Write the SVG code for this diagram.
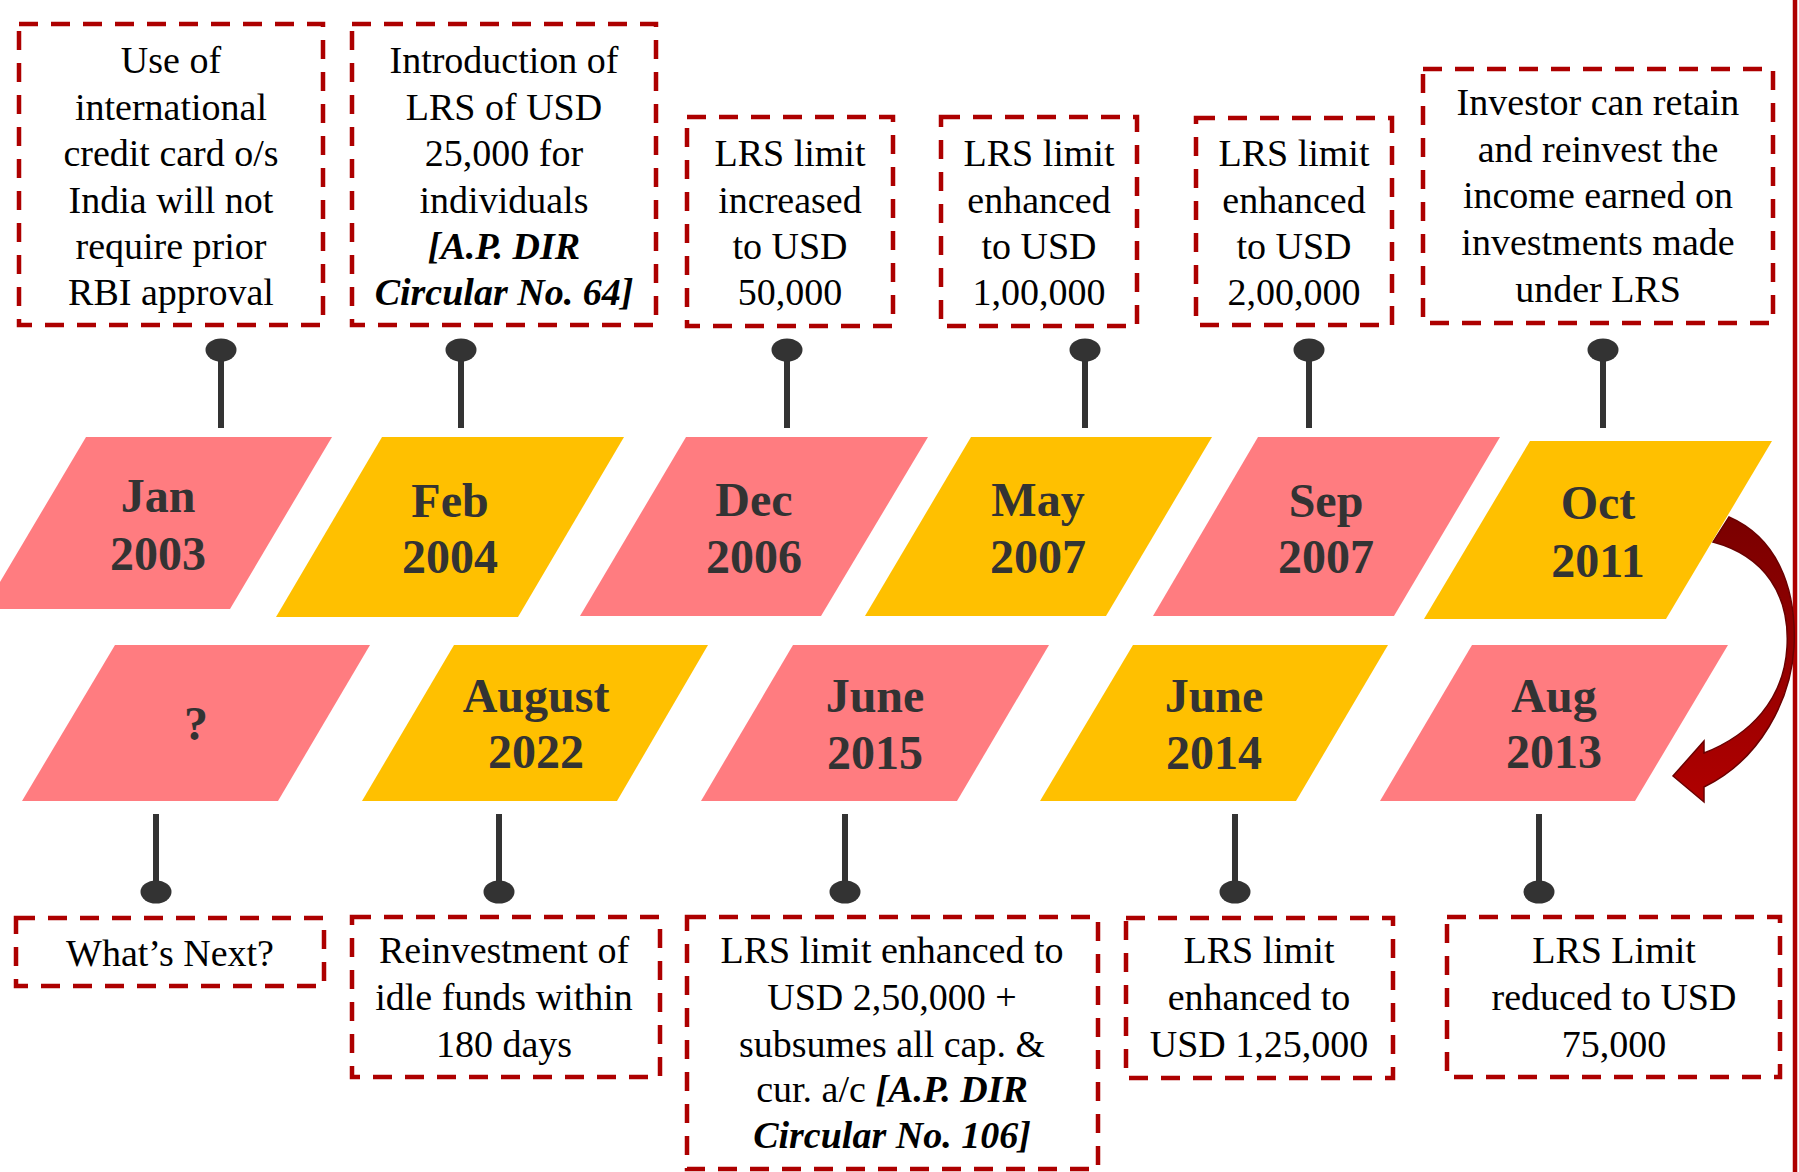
<svg xmlns="http://www.w3.org/2000/svg" width="1799" height="1172" viewBox="0 0 1799 1172">
<style>
.box{fill:#fff;stroke:#AD0000;stroke-width:4.5;stroke-dasharray:19 13}
.bt{font-family:"Liberation Serif","Times New Roman",serif;font-size:38px;fill:#000;text-anchor:middle}
.bi{font-weight:bold;font-style:italic}
.pink{fill:#FF7C80}
.yel{fill:#FFC000}
.dt{font-family:"Liberation Serif","Times New Roman",serif;font-size:48px;font-weight:bold;fill:#333;text-anchor:middle}
.stem{stroke:#333;stroke-width:6}
.dot{fill:#333}
</style>
<defs>
<linearGradient id="ag" x1="0" y1="0" x2="0" y2="1">
<stop offset="0" stop-color="#7A0000"/>
<stop offset="1" stop-color="#B00000"/>
</linearGradient>
</defs>
<rect width="1799" height="1172" fill="#fff"/>
<line x1="1795" y1="0" x2="1795" y2="1172" stroke="#AD0000" stroke-width="4.5"/>

<g id="connectors">
<line class="stem" x1="221" y1="350" x2="221" y2="428"/><ellipse class="dot" cx="221" cy="350" rx="15.5" ry="11.5"/>
<line class="stem" x1="461" y1="350" x2="461" y2="428"/><ellipse class="dot" cx="461" cy="350" rx="15.5" ry="11.5"/>
<line class="stem" x1="787" y1="350" x2="787" y2="428"/><ellipse class="dot" cx="787" cy="350" rx="15.5" ry="11.5"/>
<line class="stem" x1="1085" y1="350" x2="1085" y2="428"/><ellipse class="dot" cx="1085" cy="350" rx="15.5" ry="11.5"/>
<line class="stem" x1="1309" y1="350" x2="1309" y2="428"/><ellipse class="dot" cx="1309" cy="350" rx="15.5" ry="11.5"/>
<line class="stem" x1="1603" y1="350" x2="1603" y2="428"/><ellipse class="dot" cx="1603" cy="350" rx="15.5" ry="11.5"/>
<line class="stem" x1="156" y1="814" x2="156" y2="892"/><ellipse class="dot" cx="156" cy="892" rx="15.5" ry="11.5"/>
<line class="stem" x1="499" y1="814" x2="499" y2="892"/><ellipse class="dot" cx="499" cy="892" rx="15.5" ry="11.5"/>
<line class="stem" x1="845" y1="814" x2="845" y2="892"/><ellipse class="dot" cx="845" cy="892" rx="15.5" ry="11.5"/>
<line class="stem" x1="1235" y1="814" x2="1235" y2="892"/><ellipse class="dot" cx="1235" cy="892" rx="15.5" ry="11.5"/>
<line class="stem" x1="1539" y1="814" x2="1539" y2="892"/><ellipse class="dot" cx="1539" cy="892" rx="15.5" ry="11.5"/>
<path d="M1729,517 C1775,537 1797,585 1794,647 C1791,700 1760,760 1704,787 L1704,802 L1673,776 L1704,741 L1704,753 C1750,735 1784,700 1787,647 C1790,595 1765,556 1713,542 Z" fill="url(#ag)" stroke="#6A0000" stroke-width="1.5"/>
</g>

<g id="d-jan2003"><polygon class="pink" points="86,437 332,437 230,609 -16,609"/><text class="dt" x="158" y="512">Jan</text><text class="dt" x="158" y="570">2003</text></g>
<g id="d-feb2004"><polygon class="yel" points="382,437 624,437 518,617 276,617"/><text class="dt" x="450" y="517">Feb</text><text class="dt" x="450" y="573">2004</text></g>
<g id="d-dec2006"><polygon class="pink" points="686,437 928,437 821,616 580,616"/><text class="dt" x="754" y="516">Dec</text><text class="dt" x="754" y="573">2006</text></g>
<g id="d-may2007"><polygon class="yel" points="971,437 1212,437 1106,616 865,616"/><text class="dt" x="1038" y="516">May</text><text class="dt" x="1038" y="573">2007</text></g>
<g id="d-sep2007"><polygon class="pink" points="1258,437 1500,437 1394,616 1153,616"/><text class="dt" x="1326" y="517">Sep</text><text class="dt" x="1326" y="573">2007</text></g>
<g id="d-oct2011"><polygon class="yel" points="1530,441 1772,441 1666,619 1424,619"/><text class="dt" x="1598" y="519">Oct</text><text class="dt" x="1598" y="577">2011</text></g>

<g id="d-next"><polygon class="pink" points="115,645 370,645 278,801 22,801"/><text class="dt" x="196" y="740">?</text></g>
<g id="d-aug2022"><polygon class="yel" points="454,645 708,645 617,801 362,801"/><text class="dt" x="536" y="712">August</text><text class="dt" x="536" y="768">2022</text></g>
<g id="d-jun2015"><polygon class="pink" points="793,645 1049,645 957,801 701,801"/><text class="dt" x="875" y="712">June</text><text class="dt" x="875" y="769">2015</text></g>
<g id="d-jun2014"><polygon class="yel" points="1133,645 1388,645 1296,801 1040,801"/><text class="dt" x="1214" y="712">June</text><text class="dt" x="1214" y="769">2014</text></g>
<g id="d-aug2013"><polygon class="pink" points="1472,645 1728,645 1635,801 1380,801"/><text class="dt" x="1554" y="712">Aug</text><text class="dt" x="1554" y="768">2013</text></g>

<g id="b-2003"><rect class="box" x="19" y="24" width="304" height="301"/>
<text class="bt" x="171" y="73">Use of</text><text class="bt" x="171" y="120">international</text><text class="bt" x="171" y="166">credit card o/s</text><text class="bt" x="171" y="213">India will not</text><text class="bt" x="171" y="259">require prior</text><text class="bt" x="171" y="305">RBI approval</text></g>
<g id="b-2004"><rect class="box" x="352" y="24" width="304" height="301"/>
<text class="bt" x="504" y="73">Introduction of</text><text class="bt" x="504" y="120">LRS of USD</text><text class="bt" x="504" y="166">25,000 for</text><text class="bt" x="504" y="213">individuals</text><text class="bt bi" x="504" y="259">[A.P. DIR</text><text class="bt bi" x="504" y="305">Circular No. 64]</text></g>
<g id="b-2006"><rect class="box" x="687" y="117" width="206" height="209"/>
<text class="bt" x="790" y="166">LRS limit</text><text class="bt" x="790" y="213">increased</text><text class="bt" x="790" y="259">to USD</text><text class="bt" x="790" y="305">50,000</text></g>
<g id="b-may2007"><rect class="box" x="941" y="117" width="196" height="209"/>
<text class="bt" x="1039" y="166">LRS limit</text><text class="bt" x="1039" y="213">enhanced</text><text class="bt" x="1039" y="259">to USD</text><text class="bt" x="1039" y="305">1,00,000</text></g>
<g id="b-sep2007"><rect class="box" x="1196" y="118" width="196" height="207"/>
<text class="bt" x="1294" y="166">LRS limit</text><text class="bt" x="1294" y="213">enhanced</text><text class="bt" x="1294" y="259">to USD</text><text class="bt" x="1294" y="305">2,00,000</text></g>
<g id="b-2011"><rect class="box" x="1423" y="69" width="350" height="254"/>
<text class="bt" x="1598" y="115">Investor can retain</text><text class="bt" x="1598" y="162">and reinvest the</text><text class="bt" x="1598" y="208">income earned on</text><text class="bt" x="1598" y="255">investments made</text><text class="bt" x="1598" y="302">under LRS</text></g>

<g id="b-next"><rect class="box" x="16" y="918" width="308" height="68"/>
<text class="bt" x="170" y="966">What’s Next?</text></g>
<g id="b-2022"><rect class="box" x="352" y="917" width="308" height="160"/>
<text class="bt" x="504" y="963">Reinvestment of</text><text class="bt" x="504" y="1010">idle funds within</text><text class="bt" x="504" y="1057">180 days</text></g>
<g id="b-2015"><rect class="box" x="687" y="917" width="411" height="252"/>
<text class="bt" x="892" y="963">LRS limit enhanced to</text><text class="bt" x="892" y="1010">USD 2,50,000 +</text><text class="bt" x="892" y="1057">subsumes all cap. &amp;</text><text class="bt" x="892" y="1102">cur. a/c <tspan class="bi">[A.P. DIR</tspan></text><text class="bt bi" x="892" y="1148">Circular No. 106]</text></g>
<g id="b-2014"><rect class="box" x="1126" y="918" width="267" height="160"/>
<text class="bt" x="1259" y="963">LRS limit</text><text class="bt" x="1259" y="1010">enhanced to</text><text class="bt" x="1259" y="1057">USD 1,25,000</text></g>
<g id="b-2013"><rect class="box" x="1447" y="917" width="333" height="160"/>
<text class="bt" x="1614" y="963">LRS Limit</text><text class="bt" x="1614" y="1010">reduced to USD</text><text class="bt" x="1614" y="1057">75,000</text></g>
</svg>
